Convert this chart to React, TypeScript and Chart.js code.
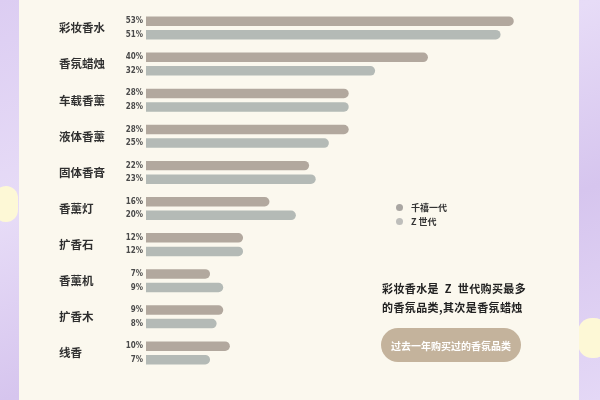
import React, { useEffect, useRef } from "react";
import { Chart, registerables } from "chart.js";

Chart.register(...registerables);

const categories = ["彩妆香水", "香氛蜡烛", "车载香薰", "液体香薰", "固体香膏", "香薰灯", "扩香石", "香薰机", "扩香木", "线香"];
const millennials = [53, 40, 28, 28, 22, 16, 12, 7, 9, 10];
const genZ = [51, 32, 28, 25, 23, 20, 12, 9, 8, 7];
const seriesNames = ["千禧一代", "Z 世代"];
const seriesColors = ["#B2A89E", "#B4BAB6"];
const legendDotColors = ["#A9A6A2", "#BEBEBB"];
const noteLines = ["彩妆香水是  Z  世代购买最多", "的香氛品类,其次是香氛蜡烛"];
const pillText = "过去一年购买过的香氛品类";

const CJK = '"Noto Sans CJK SC", "Noto Sans", sans-serif';

const valueLabelPlugin = {
  id: "valueLabels",
  afterDatasetsDraw(chart: any) {
    const ctx = chart.ctx;
    const left = chart.chartArea.left;
    ctx.save();
    ctx.font = 'bold 8px "Liberation Sans Narrow", "DejaVu Sans Condensed", sans-serif';
    ctx.fillStyle = "#4a4a4a";
    ctx.textAlign = "right";
    ctx.textBaseline = "middle";
    chart.data.datasets.forEach((ds: any, di: number) => {
      const meta = chart.getDatasetMeta(di);
      meta.data.forEach((el: any, i: number) => {
        ctx.fillText(ds.data[i] + "%", left - 3, el.y);
      });
    });
    ctx.restore();
  },
};

export default function App() {
  const canvasRef = useRef<HTMLCanvasElement | null>(null);

  useEffect(() => {
    const canvas = canvasRef.current;
    if (!canvas) return;
    const chart = new Chart(canvas, {
      type: "bar",
      data: {
        labels: categories,
        datasets: [
          {
            label: seriesNames[0],
            data: millennials,
            backgroundColor: seriesColors[0],
            base: -2.7,
            borderRadius: 5,
            borderSkipped: "start",
          } as any,
          {
            label: seriesNames[1],
            data: genZ,
            backgroundColor: seriesColors[1],
            base: -2.7,
            borderRadius: 5,
            borderSkipped: "start",
          } as any,
        ],
      },
      options: {
        indexAxis: "y",
        animation: false,
        responsive: true,
        maintainAspectRatio: false,
        categoryPercentage: 0.75,
        barPercentage: 0.7,
        layout: { padding: { left: 59, right: 40, top: 9, bottom: 29 } },
        plugins: { legend: { display: false }, tooltip: { enabled: false } },
        scales: {
          x: { display: false, min: -2.7, max: 60 },
          y: {
            grid: { display: false },
            border: { display: false },
            afterFit: (scale: any) => {
              scale.width = 87;
            },
            ticks: {
              crossAlign: "far",
              color: "#2f2f2f",
              font: { family: CJK, size: 11.5, weight: "bold" },
            },
          },
        },
      } as any,
      plugins: [valueLabelPlugin],
    });
    return () => chart.destroy();
  }, []);

  return (
    <div
      style={{
        position: "absolute",
        left: 0,
        top: 0,
        width: 600,
        height: 400,
        overflow: "hidden",
        background: "linear-gradient(160deg, #DCCDF2 0%, #E7DCF7 35%, #D6C5EE 65%, #E4D8F6 100%)",
        fontFamily: CJK,
      }}
    >
      <div style={{ position: "absolute", left: -6, top: 186, width: 24, height: 36, borderRadius: 12, background: "#FDF8D6" }} />
      <div style={{ position: "absolute", left: 578, top: 318, width: 30, height: 40, borderRadius: 14, background: "#FDF8D6" }} />
      <div
        style={{
          position: "absolute",
          left: 19,
          top: 0,
          width: 560,
          height: 400,
          background: "#FBF8EE",
        }}
      />
      <div style={{ position: "absolute", left: 0, top: 0, width: 600, height: 400 }}>
        <canvas ref={canvasRef} />
      </div>
      {seriesNames.map((n, i) => (
        <div
          key={n}
          style={{
            position: "absolute",
            left: 396,
            top: 201 + i * 14,
            height: 13,
            display: "flex",
            alignItems: "center",
            fontSize: 9,
            fontWeight: "bold",
            color: "#333",
          }}
        >
          <span
            style={{
              display: "inline-block",
              width: 7,
              height: 7,
              borderRadius: 4,
              background: legendDotColors[i],
              marginRight: 8,
            }}
          />
          {n}
        </div>
      ))}
      <div
        style={{
          position: "absolute",
          left: 382,
          top: 279,
          fontSize: 11,
          fontWeight: "bold",
          lineHeight: "19px",
          letterSpacing: "0.4px",
          color: "#222",
          whiteSpace: "pre",
        }}
      >
        {noteLines.map((l) => (
          <div key={l}>{l}</div>
        ))}
      </div>
      <div
        style={{
          position: "absolute",
          left: 381,
          top: 328,
          width: 140,
          height: 34,
          borderRadius: 17,
          background: "#C4B39C",
          color: "#FFFFFF",
          fontSize: 10,
          fontWeight: "bold",
          display: "flex",
          alignItems: "center",
          justifyContent: "center",
          whiteSpace: "nowrap",
        }}
      >
        {pillText}
      </div>
    </div>
  );
}
